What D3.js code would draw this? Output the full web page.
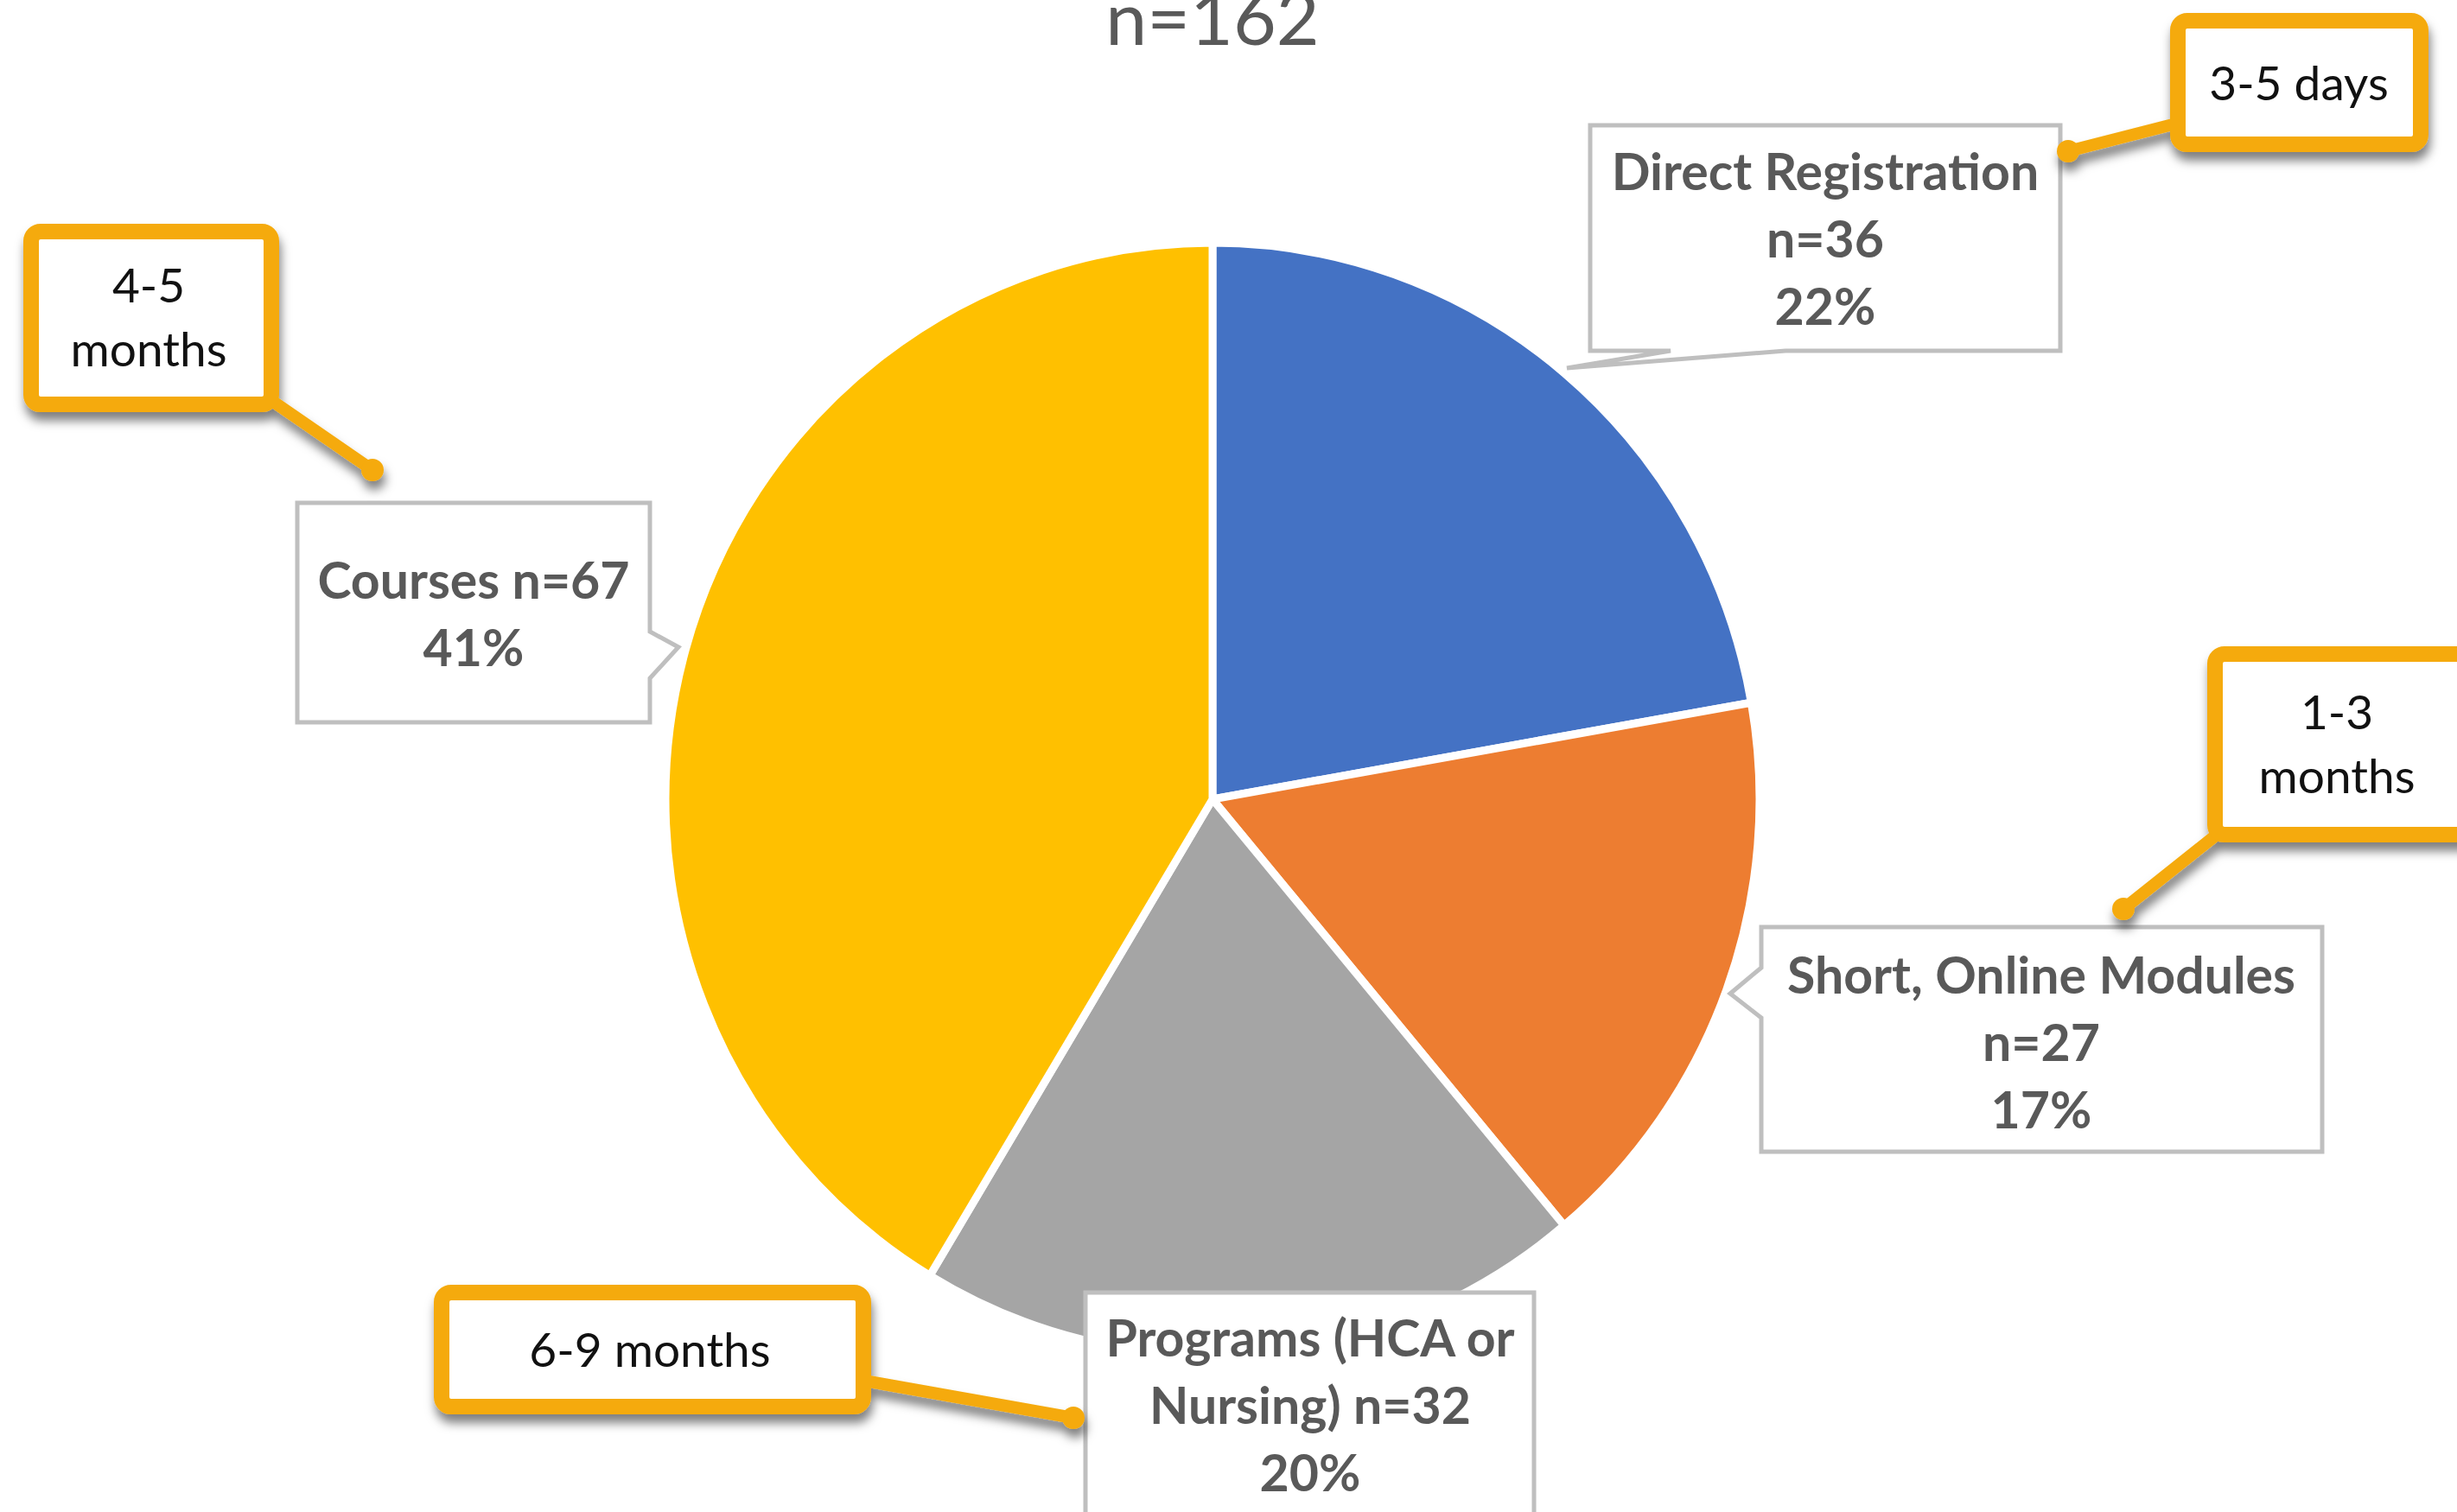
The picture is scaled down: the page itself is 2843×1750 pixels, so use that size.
<!DOCTYPE html>
<html>
<head>
<meta charset="utf-8">
<script src="https://cdn.jsdelivr.net/npm/d3@7"></script>
<style>
  html, body { margin: 0; padding: 0; background: #fff; overflow: hidden; }
  svg { display: block; }
</style>
</head>
<body>
<div id="chart"></div>
<script>
// data
const categories = ["Direct Registration", "Short, Online Modules", "Programs (HCA or Nursing)", "Courses"];
const counts = [36, 27, 32, 67];
const durations = ["3-5 days", "1-3\nmonths", "6-9 months", "4-5\nmonths"];
const colors = ["#4472C4", "#ED7D31", "#A5A5A5", "#FFC000"];
// how each data label wraps ({n} and {p} get filled in)
const labelWraps = [
    ["Direct Registration", "n={n}", "{p}"],
    ["Short, Online Modules", "n={n}", "{p}"],
    ["Programs (HCA or", "Nursing) n={n}", "{p}"],
    ["Courses n={n}", "{p}"]
];

const width = 2843;
const height = 1750;
const cx = 1403, cy = 925;
const radius = 633;
const squash = 644 / 633;   // picture is slightly taller than wide

const total = d3.sum(counts);
const pct = d3.format(".0%");

// label box layout (x, y, w, h, pointer, text centre, first baseline)
const labelBoxes = [
    {x: 1840, y: 145, w: 544, h: 261, ptr: {side: "bottom", a: 1933, b: 2066, tx: 1813, ty: 426}, tx: 2112, ty: 220},
    {x: 2038, y: 1073, w: 649, h: 260, ptr: {side: "left", a: 1120, b: 1178, tx: 2002, ty: 1150}, tx: 2362, ty: 1150},
    {x: 1256, y: 1496, w: 519, h: 300, ptr: null, tx: 1516, ty: 1570},
    {x: 344, y: 582, w: 408, h: 254, ptr: {side: "right", a: 731, b: 785, tx: 785, ty: 749}, tx: 548, ty: 693}
];
const lineGap = 78;

// orange callouts
const callouts = [
    {x: 2520, y: 24, w: 281, h: 143, tx: 2660, ty: 116, from: [2522, 142], to: [2393, 175]},
    {x: 2563, y: 757, w: 310, h: 209, tx: 2704, ty: 844, from: [2570, 962], to: [2457, 1052]},
    {x: 511, y: 1496, w: 488, h: 132, tx: 752, ty: 1582, from: [1000, 1598], to: [1242, 1641]},
    {x: 36, y: 268, w: 278, h: 200, tx: 172, ty: 350, from: [312, 462], to: [431, 544]}
];

const svg = d3.select("#chart").append("svg")
    .attr("width", width)
    .attr("height", height);

const defs = svg.append("defs");
const filter = defs.append("filter")
    .attr("id", "shadow")
    .attr("x", "-30%").attr("y", "-30%")
    .attr("width", "160%").attr("height", "170%");
filter.append("feDropShadow")
    .attr("dx", 2).attr("dy", 10)
    .attr("stdDeviation", 6)
    .attr("flood-color", "#000")
    .attr("flood-opacity", 0.5);

// title (cut at the top in the original)
svg.append("text")
    .attr("x", cx)
    .attr("y", 52)
    .attr("text-anchor", "middle")
    .style("font-family", "Lato, 'Open Sans', sans-serif")
    .style("font-size", "86px")
    .style("fill", "#595959")
    .text(`n=${total}`);

// pie
const pie = d3.pie().sort(null).value(d => d);
const arc = d3.arc().innerRadius(0).outerRadius(radius);

const pieG = svg.append("g")
    .attr("transform", `translate(${cx},${cy}) scale(1,${squash})`);

pieG.selectAll("path")
    .data(pie(counts))
    .enter()
    .append("path")
    .attr("d", arc)
    .attr("fill", (d, i) => colors[i])
    .attr("stroke", "#fff")
    .attr("stroke-width", 9)
    .attr("stroke-linejoin", "round");

// data label boxes
function boxPath(b) {
    const x0 = b.x, y0 = b.y, x1 = b.x + b.w, y1 = b.y + b.h;
    const p = b.ptr;
    const pts = [[x0, y0], [x1, y0]];
    if (p && p.side === "right") pts.push([x1, p.a], [p.tx, p.ty], [x1, p.b]);
    pts.push([x1, y1]);
    if (p && p.side === "bottom") pts.push([p.b, y1], [p.tx, p.ty], [p.a, y1]);
    pts.push([x0, y1]);
    if (p && p.side === "left") pts.push([x0, p.b], [p.tx, p.ty], [x0, p.a]);
    return d3.line()(pts) + "Z";
}

const labels = svg.append("g");
labelBoxes.forEach((b, i) => {
    labels.append("path")
        .attr("d", boxPath(b))
        .attr("fill", "#fff")
        .attr("stroke", "#BFBFBF")
        .attr("stroke-width", 5)
        .attr("stroke-linejoin", "miter");

    const lines = labelWraps[i].map(s => s
        .replace("{n}", counts[i])
        .replace("{p}", pct(counts[i] / total)));

    const t = labels.append("text")
        .attr("text-anchor", "middle")
        .style("font-family", "Lato, 'Open Sans', sans-serif")
        .style("font-weight", "bold")
        .style("font-size", "59px")
        .style("fill", "#595959");
    lines.forEach((line, k) => {
        t.append("tspan")
            .attr("x", b.tx)
            .attr("y", b.ty + k * lineGap)
            .text(line);
    });
});

// callouts with leader lines
const orange = "#F5AA0C";
const calloutG = svg.append("g");
callouts.forEach((c, i) => {
    const g = calloutG.append("g").attr("filter", "url(#shadow)");
    g.append("line")
        .attr("x1", c.from[0]).attr("y1", c.from[1])
        .attr("x2", c.to[0]).attr("y2", c.to[1])
        .attr("stroke", orange)
        .attr("stroke-width", 14)
        .attr("stroke-linecap", "round");
    g.append("circle")
        .attr("cx", c.to[0]).attr("cy", c.to[1])
        .attr("r", 13)
        .attr("fill", orange);
    g.append("rect")
        .attr("x", c.x).attr("y", c.y)
        .attr("width", c.w).attr("height", c.h)
        .attr("rx", 11)
        .attr("fill", "#fff")
        .attr("stroke", orange)
        .attr("stroke-width", 18);

    const t = calloutG.append("text")
        .attr("text-anchor", "middle")
        .style("font-family", "Lato, 'Open Sans', sans-serif")
        .style("font-size", "55px")
        .style("fill", "#111");
    durations[i].split("\n").forEach((line, k) => {
        t.append("tspan")
            .attr("x", c.tx)
            .attr("y", c.ty + k * 74)
            .text(line);
    });
});
</script>
</body>
</html>
